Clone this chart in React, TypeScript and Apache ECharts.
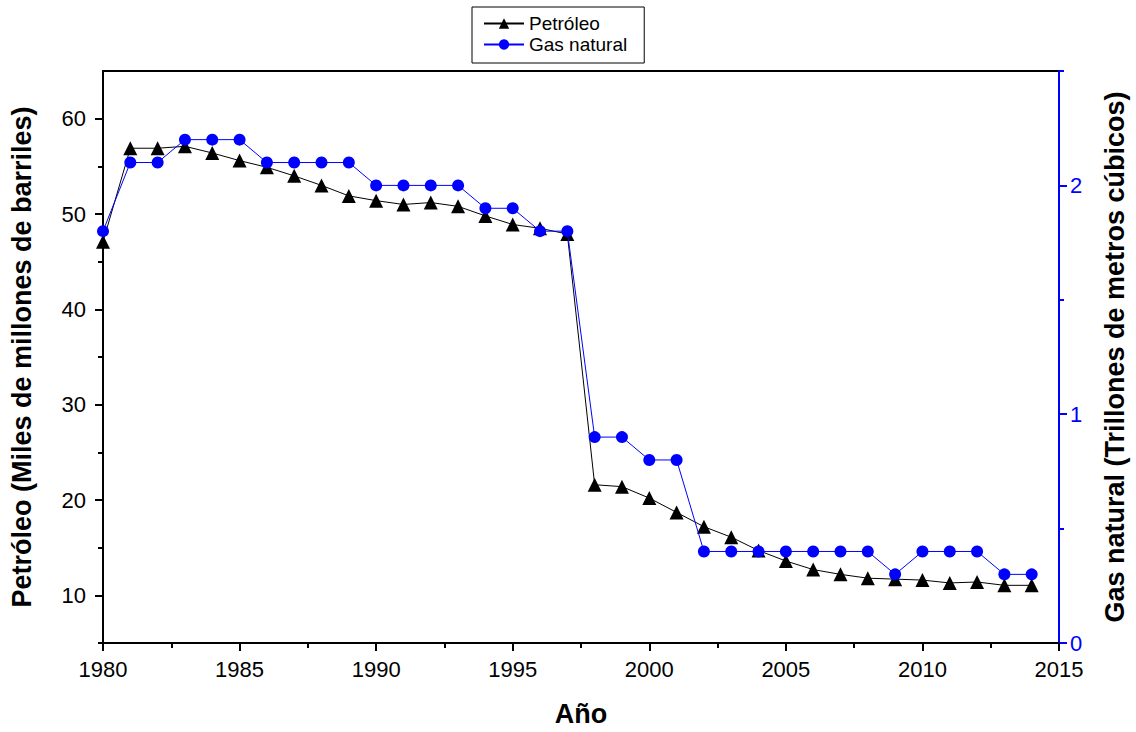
import React, { useEffect, useRef } from "react";
import * as echarts from "echarts";

const years = [1980, 1981, 1982, 1983, 1984, 1985, 1986, 1987, 1988, 1989, 1990, 1991, 1992, 1993, 1994, 1995, 1996, 1997, 1998, 1999, 2000, 2001, 2002, 2003, 2004, 2005, 2006, 2007, 2008, 2009, 2010, 2011, 2012, 2013, 2014];
const petroleo = [47.1, 56.9, 56.9, 57.1, 56.4, 55.6, 54.9, 54.0, 53.0, 51.9, 51.4, 51.0, 51.2, 50.8, 49.8, 48.9, 48.5, 47.9, 21.6, 21.4, 20.2, 18.7, 17.2, 16.1, 14.7, 13.6, 12.7, 12.2, 11.8, 11.7, 11.6, 11.3, 11.4, 11.05, 11.05];
const gas = [1.8, 2.1, 2.1, 2.2, 2.2, 2.2, 2.1, 2.1, 2.1, 2.1, 2.0, 2.0, 2.0, 2.0, 1.9, 1.9, 1.8, 1.8, 0.9, 0.9, 0.8, 0.8, 0.4, 0.4, 0.4, 0.4, 0.4, 0.4, 0.4, 0.3, 0.4, 0.4, 0.4, 0.3, 0.3];

const xMajor = [1980, 1985, 1990, 1995, 2000, 2005, 2010, 2015];
const xMinor = [1982.5, 1987.5, 1992.5, 1997.5, 2002.5, 2007.5, 2012.5];
const leftMajor = [10, 20, 30, 40, 50, 60];
const leftMinor = [5, 15, 25, 35, 45, 55];
const rightMajor = [0, 1, 2];
const rightMinor = [0.5, 1.5, 2.5];

const FONT = "Liberation Sans, Arial, sans-serif";

export default function App() {
  const ref = useRef<HTMLDivElement>(null);
  useEffect(() => {
    if (!ref.current) return;
    const chart = echarts.init(ref.current, null, { renderer: "svg" });
    const black = "#000000";
    const blue = "#0000ff";
    chart.setOption({
      animation: false,
      backgroundColor: "#ffffff",
      textStyle: { fontFamily: FONT },
      grid: {
        left: 102,
        right: 75,
        top: 71,
        bottom: 89,
        show: true,
        borderColor: black,
        borderWidth: 2,
        backgroundColor: "transparent",
      },
      legend: {
        left: 472,
        top: 7,
        orient: "vertical",
        borderColor: black,
        borderWidth: 1,
        padding: [7, 17, 9, 11],
        itemWidth: 40,
        itemHeight: 13,
        itemGap: 2,
        textStyle: { fontSize: 19, color: black, fontFamily: FONT },
        data: ["Petróleo", "Gas natural"],
      },
      xAxis: [
        {
          type: "value",
          position: "bottom",
          min: 1980,
          max: 2015,
          name: "Año",
          nameLocation: "middle",
          nameGap: 57,
          nameTextStyle: { fontSize: 27, fontWeight: "bold", color: black, fontFamily: FONT },
          axisLine: { show: true, lineStyle: { color: black, width: 2 } },
          axisTick: { show: true, length: 8, lineStyle: { color: black, width: 2 }, customValues: xMajor },
          axisLabel: {
            show: true,
            fontSize: 22,
            color: black,
            margin: 15,
            customValues: xMajor,
            fontFamily: FONT,
            formatter: (v: number) => String(v),
          },
          splitLine: { show: false },
        },
        {
          type: "value",
          position: "bottom",
          min: 1980,
          max: 2015,
          axisLine: { show: false },
          axisTick: { show: true, length: 5, lineStyle: { color: black, width: 2 }, customValues: xMinor },
          axisLabel: { show: false },
          splitLine: { show: false },
        },
      ],
      yAxis: [
        {
          type: "value",
          position: "left",
          min: 5,
          max: 65,
          name: "Petróleo (Miles de millones de barriles)",
          nameLocation: "middle",
          nameRotate: 90,
          nameGap: 68,
          nameTextStyle: { fontSize: 27, fontWeight: "bold", color: black, fontFamily: FONT },
          axisLine: { show: true, lineStyle: { color: black, width: 2 } },
          axisTick: { show: true, length: 8, lineStyle: { color: black, width: 2 }, customValues: leftMajor },
          axisLabel: {
            show: true,
            fontSize: 22,
            color: black,
            margin: 17,
            customValues: leftMajor,
            fontFamily: FONT,
            formatter: (v: number) => String(v),
          },
          splitLine: { show: false },
        },
        {
          type: "value",
          position: "right",
          min: 0,
          max: 2.5,
          name: "Gas natural (Trillones de metros cúbicos)",
          nameLocation: "middle",
          nameRotate: 90,
          nameGap: 42,
          nameTextStyle: { fontSize: 27, fontWeight: "bold", color: black, fontFamily: FONT },
          axisLine: { show: true, lineStyle: { color: blue, width: 2 } },
          axisTick: { show: true, length: 8, lineStyle: { color: blue, width: 2 }, customValues: rightMajor },
          axisLabel: {
            show: true,
            fontSize: 22,
            color: blue,
            margin: 11,
            customValues: rightMajor,
            fontFamily: FONT,
            formatter: (v: number) => String(v),
          },
          splitLine: { show: false },
        },
        {
          type: "value",
          position: "left",
          min: 5,
          max: 65,
          axisLine: { show: false },
          axisTick: { show: true, length: 5, lineStyle: { color: black, width: 2 }, customValues: leftMinor },
          axisLabel: { show: false },
          splitLine: { show: false },
        },
        {
          type: "value",
          position: "right",
          min: 0,
          max: 2.5,
          axisLine: { show: false },
          axisTick: { show: true, length: 5, lineStyle: { color: blue, width: 2 }, customValues: rightMinor },
          axisLabel: { show: false },
          splitLine: { show: false },
        },
      ],
      series: [
        {
          name: "Petróleo",
          type: "line",
          xAxisIndex: 0,
          yAxisIndex: 0,
          data: years.map((y, i) => [y, petroleo[i]]),
          symbol: "triangle",
          symbolSize: 14,
          itemStyle: { color: black },
          lineStyle: { color: black, width: 1 },
          z: 2,
        },
        {
          name: "Gas natural",
          type: "line",
          xAxisIndex: 0,
          yAxisIndex: 1,
          data: years.map((y, i) => [y, gas[i]]),
          symbol: "circle",
          symbolSize: 12,
          itemStyle: { color: blue },
          lineStyle: { color: blue, width: 1 },
          z: 3,
        },
      ],
    });
    return () => chart.dispose();
  }, []);
  return (
    <div
      ref={ref}
      style={{ position: "fixed", left: 0, top: 0, width: 1136, height: 732, background: "#fff" }}
    />
  );
}
